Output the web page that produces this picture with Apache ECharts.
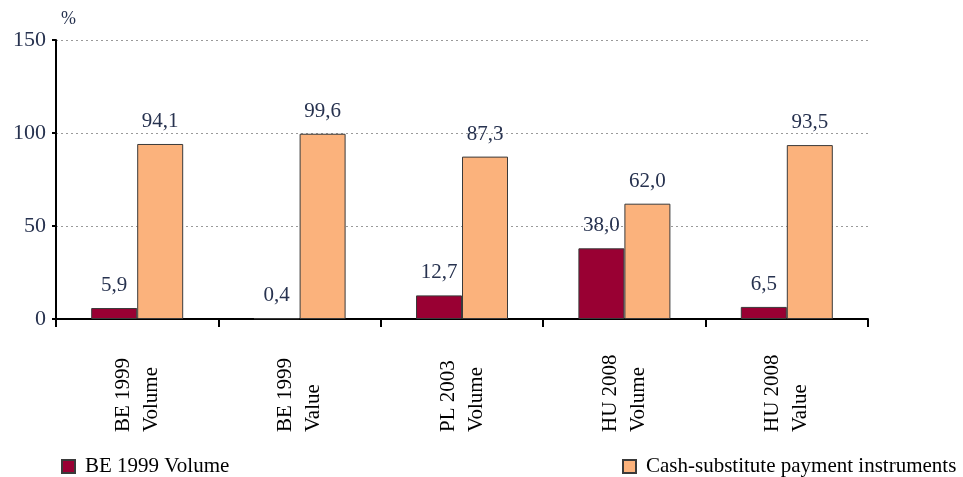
<!DOCTYPE html>
<html>
<head>
<meta charset="utf-8">
<script src="https://cdn.jsdelivr.net/npm/echarts@6/dist/echarts.min.js"></script>
<style>
  html, body { margin: 0; padding: 0; background: #fff; }
  #chart { width: 963px; height: 477px; }
</style>
</head>
<body>
<div id="chart"></div>
<script>
// Share of cash vs. cash-substitute payment instruments (%)
const categories = ['BE 1999\nVolume', 'BE 1999\nValue', 'PL 2003\nVolume', 'HU 2008\nVolume', 'HU 2008\nValue'];
const cashShare = [5.9, 0.4, 12.7, 38.0, 6.5];
const substituteShare = [94.1, 99.6, 87.3, 62.0, 93.5];
const seriesNames = ['BE 1999 Volume', 'Cash-substitute payment instruments'];
const yTicks = [0, 50, 100, 150];

const FONT = '"Liberation Serif", "Times New Roman", serif';
const NAVY = '#27324f';

const fmt = p => p.value.toFixed(1).replace('.', ',');

const chart = echarts.init(document.getElementById('chart'), null, { renderer: 'canvas' });

chart.setOption({
  animation: false,
  backgroundColor: '#fff',
  grid: { left: 56, right: 95, top: 40, bottom: 158, containLabel: false },
  legend: [
    {
      data: [seriesNames[0]],
      left: 56, top: 451,
      itemWidth: 13, itemHeight: 13,
      icon: 'rect',
      textStyle: { fontFamily: FONT, fontSize: 21, color: '#000', padding: [0, 0, 0, 5] }
    },
    {
      data: [seriesNames[1]],
      left: 617, top: 451,
      itemWidth: 13, itemHeight: 13,
      icon: 'rect',
      textStyle: { fontFamily: FONT, fontSize: 21, color: '#000', padding: [0, 0, 0, 5] }
    }
  ],
  xAxis: {
    type: 'category',
    data: categories,
    boundaryGap: true,
    axisLine: { lineStyle: { color: '#000', width: 2 } },
    axisTick: { show: true, length: 8, lineStyle: { color: '#000', width: 2 }, alignWithLabel: false },
    axisLabel: {
      rotate: 90,
      margin: 38,
      interval: 0,
      formatter: v => v.split('\n').map(s => '{l|' + s + '}').join('\n'),
      rich: {
        l: { width: 75, align: 'left', fontFamily: FONT, fontSize: 21, lineHeight: 28, color: '#000' }
      }
    }
  },
  yAxis: {
    type: 'value',
    min: yTicks[0],
    max: yTicks[yTicks.length - 1],
    interval: 50,
    name: '%',
    nameLocation: 'end',
    nameGap: 12,
    nameTextStyle: { fontFamily: FONT, fontSize: 18, color: NAVY, align: 'left', padding: [0, 0, 0, 5] },
    axisLine: { show: true, lineStyle: { color: '#000', width: 2 } },
    axisTick: { show: true, length: 4, lineStyle: { color: '#000', width: 2 } },
    axisLabel: { fontFamily: FONT, fontSize: 22, color: NAVY, margin: 10 },
    splitLine: { show: true, lineStyle: { color: '#9a9a9a', width: 1, type: [2, 3] } }
  },
  series: [
    {
      name: seriesNames[0],
      type: 'bar',
      data: cashShare,
      barWidth: 46,
      barGap: '0%',
      itemStyle: { color: '#990033', borderColor: '#3a3a3a', borderWidth: 1 },
      label: { show: true, position: 'top', distance: 12, formatter: fmt, fontFamily: FONT, fontSize: 21, color: NAVY }
    },
    {
      name: seriesNames[1],
      type: 'bar',
      data: substituteShare,
      barWidth: 46,
      barGap: '0%',
      itemStyle: { color: '#fbb27c', borderColor: '#3a3a3a', borderWidth: 1 },
      label: { show: true, position: 'top', distance: 12, formatter: fmt, fontFamily: FONT, fontSize: 21, color: NAVY }
    }
  ]
});
</script>
</body>
</html>
